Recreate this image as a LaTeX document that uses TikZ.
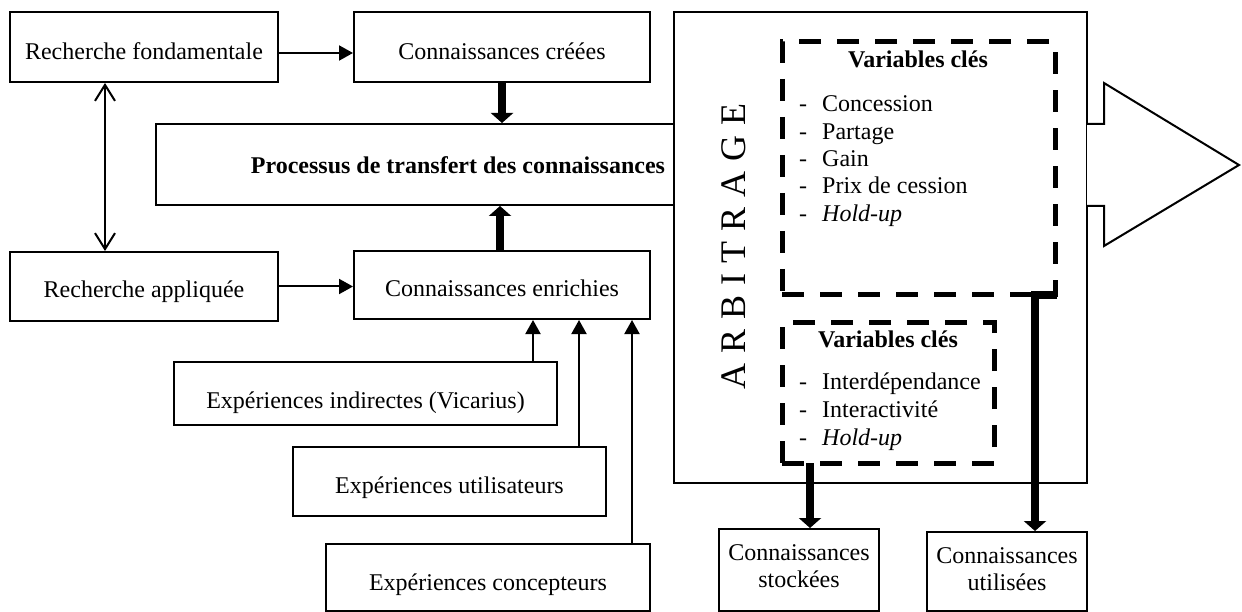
\documentclass[tikz,border=0pt]{standalone}
\usepackage{fontspec}
\setmainfont{Liberation Serif}
\usetikzlibrary{arrows.meta}
\begin{document}
\begin{tikzpicture}[x=1pt,y=-1pt,
  font=\fontsize{24}{27.3}\selectfont,
  box/.style 2 args={draw,line width=2pt,inner sep=0pt,minimum width=#1pt,minimum height=#2pt},
  th/.style 2 args={text height=#1pt,text depth=#2pt},
  dbox/.style 2 args={draw,line width=5pt,dash pattern=on 22pt off 16pt,inner sep=0pt,outer sep=0pt,minimum width=#1pt,minimum height=#2pt},
  thinarrow/.style={line width=2pt,-{Triangle[length=14pt,width=15pt]}},
  bararrow/.style={line width=2pt,{Straight Barb[length=16pt,width=20pt,line width=2pt]}-{Straight Barb[length=16pt,width=20pt,line width=2pt]}},
  thickarrow/.style={line width=8pt,line join=miter,-{Triangle[length=10pt,width=22pt]}},
  listtext/.style={anchor=base west,inner sep=0pt}
]
\useasboundingbox (0,0) rectangle (1242,612);

% boxes
\node[box={268}{70},th={26}{0}] (rf) at (144,47) {Recherche fondamentale};
\node[box={296}{70},th={26}{0}] (cc) at (502,47) {Connaissances créées};
\node[box={518}{81},th={19}{0}] (pro) at (415,164.5) {\hspace*{86pt}\textbf{Processus de transfert des connaissances}};
\node[box={268}{69},th={23}{0}] (ra) at (144,286.5) {Recherche appliquée};
\node[box={296}{68},th={24}{0}] (ce) at (502,285) {Connaissances enrichies};
\node[box={383}{63},th={29}{0}] (vic) at (365.5,393.5) {Expériences indirectes (Vicarius)};
\node[box={313}{69},th={23}{0}] (uti) at (449.5,481.5) {Expériences utilisateurs};
\node[box={324}{67},th={25}{0}] (con) at (488,577.5) {Expériences concepteurs};
\node[box={160}{82},th={0}{20}] (sto) at (799,570) {\begin{tabular}[t]{@{}c@{}}Connaissances\\stockées\end{tabular}};
\node[box={160}{79},th={0}{17}] (use) at (1007,571.5) {\begin{tabular}[t]{@{}c@{}}Connaissances\\utilisées\end{tabular}};

% arbitrage
\node[box={413}{471}] (arb) at (880.5,247.5) {};
\node[rotate=90,inner sep=0pt] (arbt) at (734,246.5) {\fontsize{36}{40}\selectfont A\hspace{10pt}R\hspace{10pt}B\hspace{10pt}I\hspace{10pt}T\hspace{10pt}R\hspace{10pt}A\hspace{10pt}G\hspace{10pt}E};

% big output arrow
\draw[line width=2pt,fill=white,line join=miter] (1087,124) -- (1104,124) -- (1104,83) -- (1239,165) -- (1104,246) -- (1104,206) -- (1087,206);

% dashed boxes
\node[dbox={273}{253}] (vk1) at (918.5,168.5) {};
\node[dbox={212}{141}] (vk2) at (888,392.5) {};

\node[anchor=base,inner sep=0pt] (t1) at (918,68) {\textbf{Variables clés}};
\node[listtext] (l1) at (799,112) {\begin{tabular}[t]{@{}l@{\hspace{15pt}}l@{}}
-&Concession\\
-&Partage\\
-&Gain\\
-&Prix de cession\\
-&\textit{Hold-up}
\end{tabular}};
\node[anchor=base,inner sep=0pt] (t2) at (888,347) {\textbf{Variables clés}};
\node[listtext,font=\fontsize{24}{28}\selectfont] (l2) at (799,389) {\begin{tabular}[t]{@{}l@{\hspace{15pt}}l@{}}
-&Interdépendance\\
-&Interactivité\\
-&\textit{Hold-up}
\end{tabular}};

% connectors
\draw[thinarrow] ([yshift=-6pt]rf.east) -- ([yshift=-6pt]cc.west);
\draw[thinarrow] (ra.east) -- (ra.east -| ce.west);
\draw[bararrow] ([xshift=-39pt]rf.south) -- ([xshift=-39pt]rf.south |- ra.north);
\draw[thickarrow] (cc.south) -- (cc.south |- pro.north);
\draw[thickarrow] ([xshift=-2pt]ce.north) -- ([xshift=-2pt]ce.north |- pro.south);
\draw[thinarrow] ([xshift=-25pt]vic.north east) -- ([xshift=-25pt]vic.north east |- ce.south);
\draw[thinarrow] ([xshift=-28pt]uti.north east) -- ([xshift=-28pt]uti.north east |- ce.south);
\draw[thinarrow] ([xshift=-19pt]con.north east) -- ([xshift=-19pt]con.north east |- ce.south);
\draw[thickarrow] ([xshift=28pt]vk2.south west) -- ([xshift=28pt]vk2.south west |- sto.north);
\draw[thickarrow] ([xshift=2pt]vk1.south east) -- ++(-22,0) coordinate (bend) -- (bend |- use.north);
\end{tikzpicture}
\end{document}
